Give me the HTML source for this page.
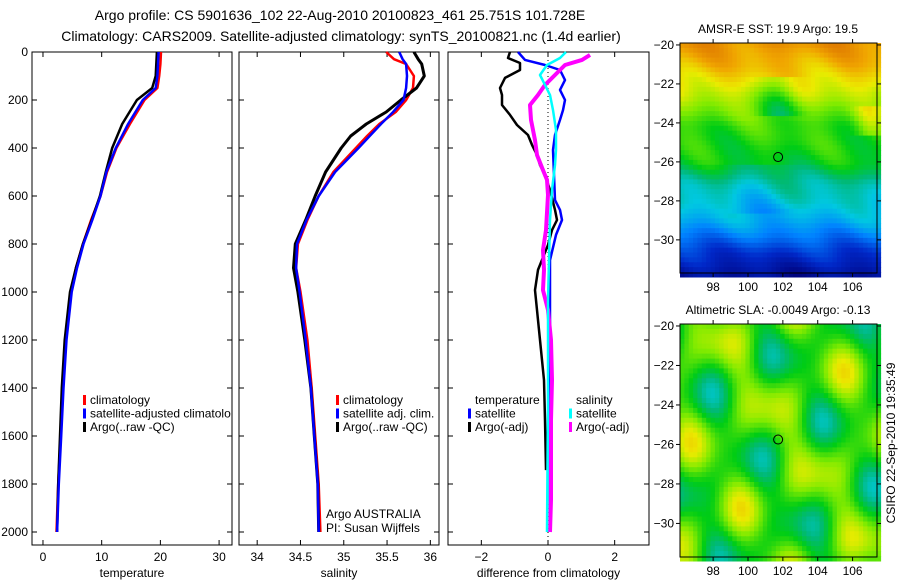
<!DOCTYPE html>
<html><head><meta charset="utf-8">
<style>
body{margin:0;background:#fff;}
svg{display:block;font-family:"Liberation Sans",sans-serif;}
text{fill:#000;}
</style></head>
<body>
<svg id="fig" width="900" height="580" viewBox="0 0 900 580">
<text x="340" y="20" font-size="14" text-anchor="middle">Argo profile: CS 5901636_102 22-Aug-2010 20100823_461 25.751S 101.728E</text>
<text x="341" y="41" font-size="14" text-anchor="middle">Climatology: CARS2009. Satellite-adjusted climatology: synTS_20100821.nc (1.4d earlier)</text>
<g id="g"></g>
</svg>
<script>
// ---- Data ----
const tDepth=[0,50,100,150,200,300,400,500,600,700,800,900,1000,1200,1400,1600,1800,2000];
const tArgo=[19.4,19.3,19.2,18.6,16.0,13.5,11.8,10.7,9.7,8.3,6.8,5.6,4.6,3.7,3.2,2.9,2.6,2.4];
const tClim=[20.1,20.0,19.8,19.5,17.3,14.8,12.5,10.9,9.8,8.2,6.8,5.6,4.8,3.9,3.4,3.0,2.6,2.3];
const tSat=[19.7,19.6,19.5,19.2,17.0,14.5,12.4,10.8,9.8,8.4,6.9,5.8,4.9,4.0,3.5,3.1,2.7,2.4];
const sDepth=[0,30,50,100,150,200,250,300,350,400,500,600,700,800,900,1000,1200,1400,1600,1800,2000];
const sArgo=[35.81,35.86,35.9,35.93,35.84,35.66,35.49,35.26,35.08,34.97,34.79,34.67,34.56,34.44,34.42,34.47,34.55,34.62,34.66,34.70,34.71];
const sClim=[35.49,35.58,35.72,35.81,35.8,35.72,35.6,35.41,35.27,35.14,34.88,34.71,34.58,34.47,34.45,34.5,34.58,34.63,34.67,34.71,34.73];
const sSat=[35.64,35.68,35.72,35.73,35.72,35.69,35.57,35.43,35.3,35.17,34.9,34.71,34.57,34.46,34.45,34.49,34.56,34.62,34.66,34.70,34.71];
const dTSatDepth=[0,33,54,75,117,158,200,242,283,346,408,617,658,700,762,867,2000];
const dTSat=[-0.9,-0.69,-0.09,0.36,0.51,0.36,0.51,0.45,0.36,0.21,0.15,0.21,0.36,0.42,0.24,0.06,0.06];
const dTArgoDepth=[0,25,46,75,108,150,179,221,262,304,346,387,429,471,512,575,658,700,742,804,908,992,1075,1200,1367,1533,1742];
const dTArgo=[-1.14,-1.2,-0.84,-0.84,-1.29,-1.44,-1.38,-1.38,-1.14,-0.93,-0.6,-0.48,-0.33,-0.24,-0.09,0.06,0.21,0.27,0.12,0,-0.3,-0.39,-0.33,-0.24,-0.12,-0.09,-0.06];
const dSSatDepth=[0,25,54,96,137,179,242,325,408,471,575,700,867,1033,1450,2000];
const dSSat=[0.54,0.36,-0.03,-0.24,-0.09,0.06,0.15,0.24,0.24,0.21,0.12,0.06,0.03,0,0,-0.03];
const dSArgoDepth=[12,33,54,96,137,179,221,283,367,429,492,533,596,742,825,908,992,1075,1200,1367,1533,1867,2000];
const dSArgo=[1.26,1.02,0.51,0.21,-0.09,-0.3,-0.54,-0.51,-0.39,-0.33,-0.15,-0.03,0,-0.06,-0.15,-0.12,-0.15,0,0.09,0.12,0.09,0.09,0.06];
const depthTicks=[0,200,400,600,800,1000,1200,1400,1600,1800,2000];
const tTicks=[0,10,20,30];
const sTicks=[34,34.5,35,35.5,36];
const dTicks=[-2,0,2];
const latTicks=[-20,-22,-24,-26,-28,-30];
const lonTicks=[98,100,102,104,106];
const sstLat=[-19.9,-21,-22,-23,-24,-25,-26,-27,-28,-29,-29.7,-30.5,-31.7];
const sstVal=[0.9,0.84,0.77,0.68,0.62,0.6,0.57,0.48,0.43,0.36,0.28,0.17,0.06];

const NS='http://www.w3.org/2000/svg';
const G=document.getElementById('g');
function el(tag,attrs,parent,txt){const e=document.createElementNS(NS,tag);for(const k in attrs)e.setAttribute(k,attrs[k]);if(txt!==undefined)e.textContent=txt;(parent||G).appendChild(e);return e;}
const Y=d=>52+d*0.24;
const panels=[
 {x0:32,x1:232,v0:-1.87,v1:32.2,ticks:tTicks,label:'temperature',name:'temperature'},
 {x0:239,x1:439,v0:33.79,v1:36.1,ticks:sTicks,label:'salinity',name:'salinity'},
 {x0:448,x1:649,v0:-3,v1:3.03,ticks:dTicks,label:'difference from climatology',name:'difference'}
];
panels.forEach((p,i)=>{
 p.X=v=>p.x0+(v-p.v0)/(p.v1-p.v0)*(p.x1-p.x0);
 const g=el('g',{});
 
 
 el('rect',{x:p.x0,y:52,width:p.x1-p.x0,height:493,fill:'none',stroke:'#000','stroke-width':1},g);
 p.ticks.forEach(t=>{const x=p.X(t);
  el('line',{x1:x,x2:x,y1:545,y2:540,stroke:'#000'},g);
  el('line',{x1:x,x2:x,y1:52,y2:57,stroke:'#000'},g);
  const tx=el('text',{x:x,y:561,'font-size':12,'text-anchor':'middle'},g,String(t).replace('-','\u2212'));
  
  
 });
 depthTicks.forEach(d=>{const y=Y(d);
  el('line',{x1:p.x0,x2:p.x0+5,y1:y,y2:y,stroke:'#000'},g);
  el('line',{x1:p.x1,x2:p.x1-5,y1:y,y2:y,stroke:'#000'},g);
  if(i===0){const tx=el('text',{x:p.x0-4,y:y+4,'font-size':12,'text-anchor':'end'},g,String(d));
   
   }
 });
 const lb=el('text',{x:(p.x0+p.x1)/2,y:577,'font-size':12,'text-anchor':'middle'},g,p.label);
 
 
});
function line(p,depths,vals,color,w,name){
 const pts=depths.map((d,k)=>p.X(vals[k]).toFixed(1)+','+Y(d).toFixed(1)).join(' ');
 const e=el('polyline',{points:pts,fill:'none',stroke:color,'stroke-width':w,'stroke-linejoin':'round'});
 
 
}
const zl=el('line',{x1:panels[2].X(0),x2:panels[2].X(0),y1:52,y2:545,stroke:'#000','stroke-dasharray':'1,3'});


line(panels[0],tDepth,tClim,'#f00',2.5,'temp-climatology-line');
line(panels[0],tDepth,tArgo,'#000',2.5,'temp-argo-line');
line(panels[0],tDepth,tSat,'#00f',2.5,'temp-satellite-line');
line(panels[1],sDepth,sClim,'#f00',2.5,'sal-climatology-line');
line(panels[1],sDepth,sArgo,'#000',3,'sal-argo-line');
line(panels[1],sDepth,sSat,'#00f',2.5,'sal-satellite-line');
line(panels[2],dTArgoDepth,dTArgo,'#000',2.5,'diff-temp-argo-line');
line(panels[2],dTSatDepth,dTSat,'#00f',2.5,'diff-temp-satellite-line');
line(panels[2],dSArgoDepth,dSArgo,'#f0f',4,'diff-sal-argo-line');
line(panels[2],dSSatDepth,dSSat,'#0ff',2.5,'diff-sal-satellite-line');
function legend(x,y,items,name){
 const g=el('g',{});
 
 
 items.forEach((it,k)=>{
  if(it[0])el('rect',{x:x,y:y+k*13.5-9,width:3,height:10,fill:it[0]},g);
  el('text',{x:x+7,y:y+k*13.5,'font-size':12},g,it[1]);
 });
}
legend(83,404,[['#f00','climatology'],['#00f','satellite-adjusted climatolo'],['#000','Argo(..raw -QC)']],'temperature-legend');
legend(336,404,[['#f00','climatology'],['#00f','satellite adj. clim.'],['#000','Argo(..raw -QC)']],'salinity-legend');
legend(468,404,[[null,'temperature'],['#00f','satellite'],['#000','Argo(-adj)']],'diff-temperature-legend');
legend(569,404,[[null,'salinity'],['#0ff','satellite'],['#f0f','Argo(-adj)']],'diff-salinity-legend');
el('text',{x:326,y:518,'font-size':12},G,'Argo AUSTRALIA');
el('text',{x:326,y:532,'font-size':12},G,'PI: Susan Wijffels');
const cmStops=[[0,0,0,120],[0.15,0,40,200],[0.3,0,130,255],[0.42,0,200,225],[0.5,0,185,120],[0.58,0,205,20],[0.68,130,235,0],[0.77,235,235,0],[0.87,240,165,0],[1,215,100,0]];
function cmap(v){v=Math.max(0,Math.min(1,v));
 for(let i=1;i<cmStops.length;i++){if(v<=cmStops[i][0]){const a=cmStops[i-1],b=cmStops[i],t=(v-a[0])/(b[0]-a[0]);
  return `rgb(${Math.round(a[1]+t*(b[1]-a[1]))},${Math.round(a[2]+t*(b[2]-a[2]))},${Math.round(a[3]+t*(b[3]-a[3]))})`;}}
 return 'rgb(215,100,0)';}
function interp(xs,ys,x){
 if(x>=xs[0])return ys[0];
 for(let i=1;i<xs.length;i++){if(x>=xs[i]){const t=(x-xs[i-1])/(xs[i]-xs[i-1]);return ys[i-1]+t*(ys[i]-ys[i-1]);}}
 return ys[ys.length-1];}
function map(cfg){
 const g=el('g',{});
 
 
 const lon0=96.1,lon1=107.4,lat0=-19.9,lat1=-31.7;
 const X=lo=>680+(lo-lon0)/(lon1-lon0)*197;
 const Yy=la=>cfg.y0+(la-lat0)/(lat1-lat0)*(cfg.y1-cfg.y0);
 const step=0.25;
 for(let la=lat0;la>lat1-0.01;la-=step){for(let lo=lon0;lo<lon1;lo+=step){
  const x=X(lo),y=Yy(la);
  el('rect',{x:x.toFixed(1),y:y.toFixed(1),width:(X(lo+step)-x+0.6).toFixed(1),height:(Yy(la-step)-y+0.6).toFixed(1),fill:cmap(cfg.f(la,lo))},g);
 }}
 el('rect',{x:680,y:cfg.y0,width:197,height:cfg.y1-cfg.y0,fill:'none',stroke:'#000'},g);
 latTicks.forEach(t=>{const y=Yy(t);el('line',{x1:680,x2:676,y1:y,y2:y,stroke:'#000'},g);el('line',{x1:877,x2:881,y1:y,y2:y,stroke:'#000'},g);
  el('text',{x:674,y:y+4,'font-size':12,'text-anchor':'end'},g,String(t).replace('-','\u2212'));});
 lonTicks.forEach(t=>{const x=X(t);el('line',{x1:x,x2:x,y1:cfg.y1,y2:cfg.y1+4,stroke:'#000'},g);el('line',{x1:x,x2:x,y1:cfg.y0,y2:cfg.y0-4,stroke:'#000'},g);
  el('text',{x:x,y:cfg.y1+18,'font-size':12,'text-anchor':'middle'},g,String(t));});
 el('circle',{cx:X(101.728),cy:Yy(-25.751),r:4.5,fill:'none',stroke:'#000'},g);
 el('text',{x:778,y:cfg.y0-10,'font-size':12,'text-anchor':'middle'},g,cfg.title);
}
map({name:'sst-map',y0:43,y1:273,title:'AMSR-E SST: 19.9 Argo: 19.5',f:(la,lo)=>{
 let v=interp(sstLat,sstVal,la)+0.03*Math.sin(lo*1.7+la)+0.02*Math.cos(la*2.3+lo*0.8);
 if(la<-21.5&&la>-23.5) v-=0.1*Math.exp(-((lo-101.7)**2)/1.2);
 if(la<-23&&la>-24.5) v+=0.08*Math.exp(-((lo-106.8)**2)/0.6);
 if(la<-26&&la>-28.5) v-=0.05*Math.exp(-((lo-100.5)**2)/3);
 return v;}});
map({name:'sla-map',y0:324,y1:557,title:'Altimetric SLA: -0.0049 Argo: -0.13',f:(la,lo)=>{
 return 0.62+0.08*Math.sin(lo*1.1+la*0.9)+0.06*Math.cos(la*1.4-lo*0.6)+0.04*Math.sin(lo*2.1);}});
const ts=el('text',{x:895,y:443,'font-size':12,'text-anchor':'middle',transform:'rotate(-90 895 443)'},G,'CSIRO 22-Sep-2010 19:35:49');


</script>
</body></html>
